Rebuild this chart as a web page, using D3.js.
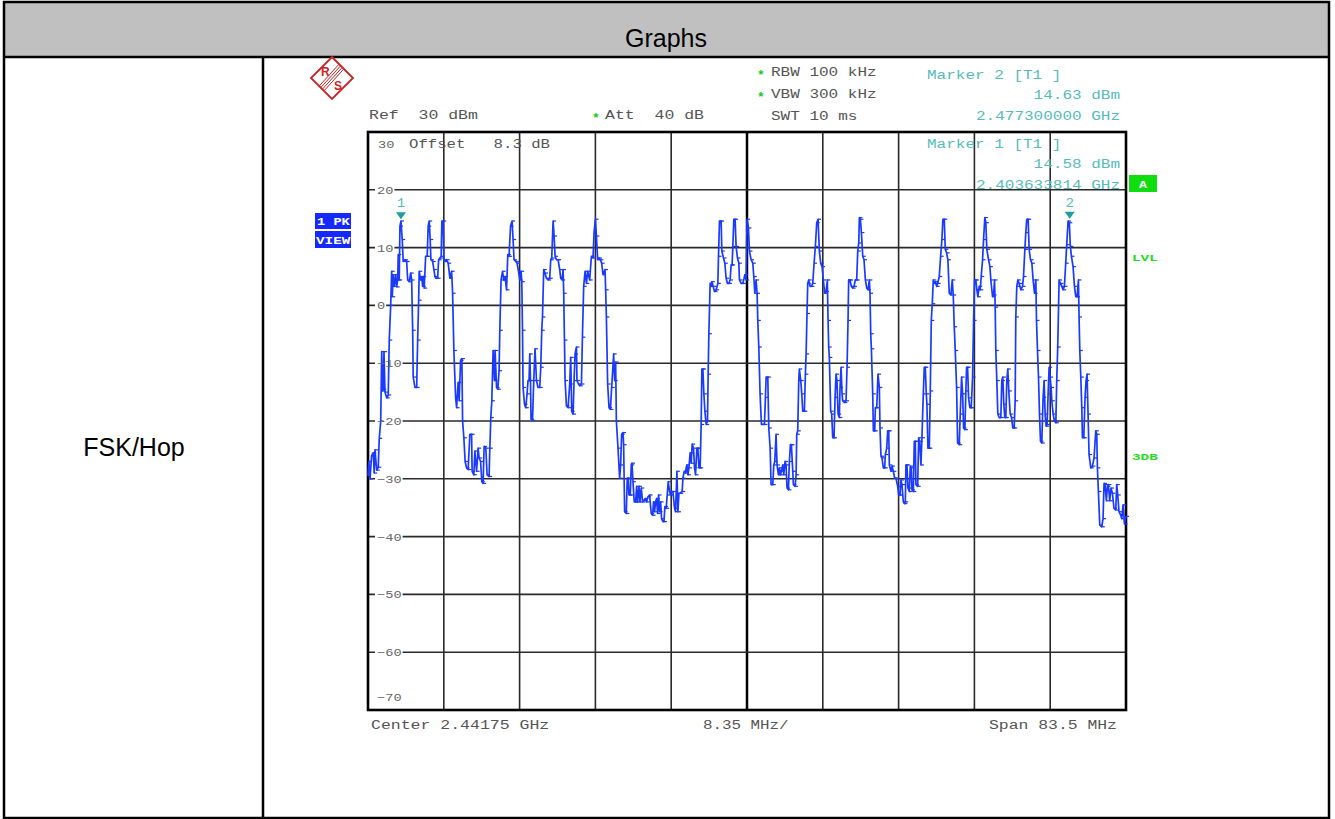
<!DOCTYPE html>
<html>
<head>
<meta charset="utf-8">
<title>FSK/Hop</title>
<script src="https://d3js.org/d3.v7.min.js"></script>
<style>
body { margin: 0; background: #fff; }
svg { display: block; }
text.mono { font-family: 'Liberation Mono', 'DejaVu Sans Mono', monospace; white-space: pre; }
text.sans { font-family: 'Liberation Sans', Arial, sans-serif; }
</style>
</head>
<body>
<div id="chart"></div>
<script>
var W = 1335, H = 819;

// analyser settings
var startMHz = 2400, spanMHz = 83.5;
var refLevel = 30, bottomLevel = -70;
var yTicks = [20, 10, 0, -10, -20, -30, -40, -50, -60];
var divisions = 10;

// trace: [MHz above start, dBm]
var trace = [
[0.00,-29.5],[0.10,-27],[0.22,-30],[0.40,-26],[0.58,-25.5],[0.68,-29],[0.77,-25],[0.96,-28.5],[1.13,-28],[1.24,-23],
[1.40,-20],[1.51,-8],[1.60,-14.8],[1.68,-14.5],[1.76,-8],[1.87,-15],[2.06,-16],[2.23,-15.5],[2.34,-6],[2.50,0],
[2.61,5.9],[2.67,1.5],[2.78,5.3],[2.89,3.3],[3.05,5.3],[3.16,3.2],[3.27,4.4],[3.33,8.8],[3.44,4.4],[3.52,13.7],
[3.63,14.6],[3.77,11.4],[3.88,7.6],[4.07,7.9],[4.26,7.6],[4.37,4.4],[4.54,4.1],[4.70,5.6],[4.81,4.4],[4.92,-4.3],
[4.98,-12.4],[5.17,-14.2],[5.36,-14.2],[5.47,-6],[5.58,0.9],[5.64,5.9],[5.80,4.4],[5.91,5],[6.02,3.3],[6.08,5],
[6.19,3],[6.35,8.5],[6.52,8.5],[6.63,13.7],[6.74,14.6],[6.85,11.4],[6.93,7.9],[7.12,7.6],[7.26,6.2],[7.37,5],
[7.48,4.7],[7.67,4.7],[7.78,7.9],[7.92,8.2],[8.06,8.5],[8.14,14.6],[8.28,14.6],[8.36,7.9],[8.50,7.6],[8.66,7.9],
[8.83,7.3],[9.02,4.7],[9.21,5.9],[9.32,2.1],[9.46,-7.8],[9.65,-15.9],[9.76,-17.7],[9.93,-13.3],[10.04,-16.5],[10.20,-9.5],
[10.34,-9.2],[10.42,-20],[10.56,-22.9],[10.70,-27],[10.86,-28.1],[11.03,-28.4],[11.22,-22.3],[11.41,-22.3],[11.47,-28.7],[11.66,-29.3],
[11.77,-25.2],[11.96,-28.7],[12.13,-24.7],[12.24,-26.4],[12.40,-27],[12.54,-30.5],[12.68,-30.8],[12.79,-24.4],[12.98,-24.7],[13.12,-29.3],
[13.34,-29.6],[13.42,-24.7],[13.53,-19.4],[13.64,-16.5],[13.78,-7.8],[13.94,-13],[14.00,-7.8],[14.16,-14.2],[14.30,-14.5],[14.44,-11.3],
[14.52,-4.3],[14.66,4.4],[14.82,5.9],[14.96,4.4],[15.10,5],[15.26,2.7],[15.40,8.8],[15.54,8.5],[15.70,13.7],[15.87,14.6],
[15.98,11.4],[16.09,7.9],[16.28,7.6],[16.42,7.3],[16.58,5.9],[16.72,4.4],[16.86,5.9],[16.94,4.1],[17.02,-4.3],[17.08,-14.2],
[17.24,-17.1],[17.38,-17.7],[17.52,-15.3],[17.63,-13],[17.74,-13],[17.82,-8.4],[17.90,-13],[17.96,-19.7],[18.12,-19.9],[18.26,-13],
[18.40,-7.5],[18.56,-13],[18.73,-14.2],[18.92,-14.2],[19.03,-10.7],[19.14,-4.3],[19.22,-2],[19.36,6.2],[19.50,5.6],[19.66,4.7],
[19.84,4.4],[20.02,4.7],[20.13,7.9],[20.24,8.2],[20.39,14.6],[20.50,12],[20.61,8.5],[20.76,7.9],[20.94,7.9],[21.12,6.2],
[21.23,4.7],[21.38,4.4],[21.49,6.2],[21.56,2.1],[21.64,-6],[21.71,-13],[21.86,-17.4],[22.04,-17.7],[22.22,-13.6],[22.33,-9],
[22.44,-18.3],[22.59,-18.8],[22.70,-13],[22.81,-8.4],[22.96,-7.2],[23.02,-13],[23.18,-13.6],[23.32,-13.9],[23.51,-13.6],[23.62,-5.5],
[23.76,3.3],[23.91,5.9],[24.06,3.8],[24.20,5.9],[24.42,4.4],[24.61,8.5],[24.79,8.2],[24.90,12.6],[25.05,14.9],[25.16,12],
[25.30,7.9],[25.45,8.2],[25.60,7.9],[25.74,7.3],[25.89,5.3],[26.11,6.2],[26.18,2.7],[26.26,-2],[26.40,-13.6],[26.55,-17.7],
[26.70,-18],[26.84,-14.2],[27.06,-8.4],[27.17,-13],[27.28,-9.8],[27.36,-20],[27.54,-24.7],[27.72,-29.9],[27.83,-27.6],[27.94,-22.3],
[28.09,-22],[28.16,-24.1],[28.27,-35.7],[28.45,-36],[28.56,-29.9],[28.67,-29.9],[28.75,-32.8],[28.89,-32.8],[29.00,-27.6],[29.08,-27.3],
[29.19,-30.5],[29.33,-34],[29.48,-34],[29.59,-31.3],[29.70,-34],[29.85,-31.3],[29.96,-34],[30.10,-31.6],[30.25,-34],[30.40,-33.7],
[30.54,-33.4],[30.69,-34],[30.84,-33.1],[31.02,-32.8],[31.20,-36],[31.35,-36.3],[31.46,-34],[31.57,-35.7],[31.68,-34],[31.79,-33.4],
[31.90,-36],[32.01,-32.8],[32.12,-35.7],[32.23,-34],[32.34,-36.9],[32.49,-37.4],[32.60,-37.4],[32.71,-34.8],[32.85,-35.1],[32.96,-32.8],
[33.07,-30.5],[33.22,-32.2],[33.33,-32.8],[33.44,-32.2],[33.59,-32.2],[33.77,-35.1],[33.88,-35.7],[34.03,-28.7],[34.14,-35.7],[34.25,-32.5],
[34.39,-32.5],[34.61,-32.2],[34.69,-29.9],[34.83,-28.7],[34.98,-29],[35.05,-28.1],[35.13,-27.6],[35.24,-29.3],[35.35,-28.1],[35.49,-25.5],
[35.60,-27.3],[35.71,-24],[35.86,-24.7],[35.97,-28.1],[36.08,-29.3],[36.23,-24.7],[36.34,-24.7],[36.45,-28.1],[36.59,-28.1],[36.70,-20.6],
[36.78,-11],[36.89,-11],[37.00,-15.3],[37.11,-18.3],[37.25,-20.6],[37.40,-20],[37.47,-11.9],[37.55,-4.9],[37.69,3.8],[37.77,3.3],
[37.88,4.1],[38.02,3.3],[38.17,2.4],[38.35,2.7],[38.54,3.8],[38.61,8.5],[38.72,14.6],[38.90,14.6],[38.98,9.4],[39.16,8.2],
[39.31,7.3],[39.45,4.7],[39.60,3.8],[39.75,3.8],[39.89,4.4],[40.00,7],[40.11,7],[40.19,10.2],[40.30,14.9],[40.44,14.9],
[40.55,10.2],[40.70,8.2],[40.85,7.3],[40.92,4.4],[41.10,3.8],[41.29,3.8],[41.43,4.7],[41.51,5.3],[41.65,4.4],[41.76,14.9],
[41.91,13.4],[42.02,9.4],[42.20,7.9],[42.39,7.3],[42.50,5],[42.61,2.1],[42.75,4.4],[42.86,2.1],[42.94,-2.6],[43.05,-7.2],
[43.19,-15.3],[43.34,-20.6],[43.67,-20.6],[43.78,-15.9],[43.86,-12.4],[44.04,-12.4],[44.15,-21.2],[44.30,-24.7],[44.40,-31],[44.59,-31],
[44.70,-27.6],[44.81,-27],[44.95,-22.3],[45.06,-27.6],[45.21,-29.3],[45.32,-28.1],[45.43,-29.3],[45.54,-28.7],[45.69,-27.6],[45.80,-29.3],
[45.94,-27],[46.05,-27.6],[46.16,-31.6],[46.31,-31.9],[46.42,-27],[46.53,-24.1],[46.64,-24.1],[46.79,-28.7],[46.86,-31],[47.05,-31.3],
[47.16,-29.3],[47.23,-22.3],[47.34,-21.7],[47.45,-13],[47.52,-11],[47.67,-13],[47.78,-15.3],[47.89,-18.3],[48.07,-18.3],[48.18,-11.9],
[48.26,-8.4],[48.36,-1.4],[48.44,3.8],[48.55,4.4],[48.70,3.3],[48.84,3.3],[48.99,3.8],[49.14,7.3],[49.28,10.2],[49.43,14.3],
[49.58,14.9],[49.72,9.4],[49.87,7.3],[50.02,6.7],[50.16,4.4],[50.31,2.1],[50.46,2.4],[50.60,4.4],[50.68,-2.6],[50.75,-7.2],
[50.82,-9],[50.97,-18.3],[51.08,-18.8],[51.19,-22.9],[51.34,-22.9],[51.45,-15.9],[51.56,-11.9],[51.66,-13],[51.78,-18.8],[51.92,-19.4],
[52.00,-14.2],[52.11,-10.7],[52.22,-15.3],[52.29,-16.5],[52.47,-16.8],[52.66,-16.5],[52.77,-10.7],[52.88,-2.6],[52.95,4.4],[53.10,4.4],
[53.24,3.3],[53.39,3],[53.54,3.3],[53.68,4.4],[53.83,4.4],[53.95,9.4],[54.06,10.8],[54.13,15.2],[54.24,14.9],[54.35,12.6],
[54.50,8.5],[54.64,7.9],[54.79,4.4],[54.94,3],[55.08,2.7],[55.23,4.4],[55.30,2.1],[55.38,-4.9],[55.45,-7.5],[55.60,-15.3],
[55.67,-21.7],[55.82,-21.7],[55.89,-17.7],[56.04,-17.7],[56.18,-11.9],[56.33,-14.2],[56.40,-21.2],[56.51,-26.1],[56.62,-26.4],[56.77,-28.1],
[56.92,-28.1],[56.99,-25.8],[57.14,-24.7],[57.25,-21.7],[57.36,-21.7],[57.43,-27.6],[57.61,-28.7],[57.72,-27.8],[57.87,-28.7],[58.02,-29.9],
[58.16,-29.9],[58.35,-31.3],[58.46,-32.8],[58.60,-32.8],[58.71,-30.2],[58.82,-31],[58.97,-34],[59.08,-34.3],[59.19,-34],[59.26,-27.6],
[59.37,-27.6],[59.48,-31.6],[59.63,-32.2],[59.74,-27.8],[59.85,-28.1],[59.92,-31.9],[60.07,-32.2],[60.18,-23.5],[60.29,-23.5],[60.36,-31],
[60.55,-31.3],[60.66,-22.9],[60.77,-23.5],[60.91,-27.6],[61.02,-22.9],[61.17,-15.3],[61.28,-10.7],[61.39,-10.7],[61.50,-15.3],[61.57,-17.1],
[61.68,-24.7],[61.83,-24.7],[61.94,-14.8],[62.05,-2.6],[62.16,0.3],[62.27,4.4],[62.38,3.8],[62.49,4.1],[62.64,3.3],[62.75,3.8],
[62.93,5],[63.08,8.5],[63.22,11.4],[63.33,14.9],[63.48,14.9],[63.59,9.7],[63.74,9.1],[63.88,7.9],[64.03,2.1],[64.21,1.8],
[64.36,4.4],[64.47,1.8],[64.58,-3.7],[64.69,-7.8],[64.84,-14.2],[64.95,-23.8],[65.13,-24.1],[65.24,-18.8],[65.39,-12.4],[65.50,-15.3],
[65.61,-21.2],[65.75,-21.5],[65.86,-14.8],[65.94,-10.7],[66.05,-10.7],[66.16,-16],[66.30,-17.7],[66.45,-17.7],[66.60,-12.4],[66.71,-2.6],
[66.82,4.4],[66.96,4.4],[67.07,2.7],[67.18,1.5],[67.33,3.3],[67.44,2.7],[67.55,5],[67.70,7.9],[67.81,11.4],[67.95,15.2],
[68.06,14.3],[68.17,9.7],[68.36,7.9],[68.51,6.7],[68.61,4.4],[68.80,1.5],[68.91,1.8],[69.02,4.4],[69.09,-0.3],[69.16,-7.8],
[69.27,-13],[69.38,-18.8],[69.53,-19.4],[69.71,-19.4],[69.82,-13],[69.93,-12.4],[70.04,-17.1],[70.15,-19.4],[70.26,-19.4],[70.37,-13],
[70.48,-11],[70.59,-14.8],[70.74,-18.8],[70.89,-19.4],[71.03,-21.2],[71.18,-21.2],[71.29,-16.5],[71.36,-2],[71.47,3.3],[71.59,4.4],
[71.73,3.8],[71.92,2.7],[72.10,3.3],[72.21,5],[72.36,9.7],[72.46,12.6],[72.57,14.9],[72.72,14.9],[72.83,9.7],[72.98,7.9],
[73.13,7.3],[73.27,4.4],[73.42,2.1],[73.57,4.4],[73.64,-2.6],[73.75,-7.8],[73.86,-12.4],[73.97,-18.8],[74.08,-23.5],[74.22,-23.8],
[74.37,-15.9],[74.48,-13],[74.59,-18.8],[74.70,-20.9],[74.81,-20.6],[74.92,-15.3],[75.03,-10.7],[75.14,-12.4],[75.25,-14.2],[75.33,-16.5],
[75.47,-18.8],[75.62,-20],[75.77,-20.3],[75.87,-13],[75.98,-7.2],[76.13,4.4],[76.28,3.8],[76.42,3.3],[76.57,2.7],[76.72,3.3],
[76.86,7.3],[76.97,10.5],[77.12,14.6],[77.26,14.3],[77.37,10.2],[77.49,8.5],[77.67,6.7],[77.82,3.3],[77.97,1.5],[78.11,1.5],
[78.26,4.4],[78.33,-2],[78.41,-7.8],[78.52,-12.4],[78.63,-17.7],[78.70,-22.9],[78.85,-22.9],[78.99,-15.9],[79.10,-13],[79.21,-11.9],
[79.32,-18.8],[79.43,-25.8],[79.62,-28.1],[79.80,-27.8],[79.98,-26.4],[80.17,-21.7],[80.28,-22.3],[80.35,-28.1],[80.46,-32.2],[80.61,-38],
[80.83,-38.3],[80.97,-36.9],[81.08,-30.8],[81.19,-31],[81.34,-33.8],[81.45,-31.3],[81.56,-31],[81.71,-33.8],[81.85,-31.6],[82.00,-32.5],
[82.18,-35.1],[82.37,-35.4],[82.48,-31],[82.59,-32.8],[82.73,-35.7],[82.92,-36.3],[83.03,-36.9],[83.18,-34.5],[83.33,-37.8],[83.50,-36.5]
];

// markers
var markerNum = [1, 2];
var markerMHz = [3.633814, 77.3];
var markerLevel = [14.58, 14.63];

// header lines
var settingsText = ["RBW 100 kHz", "VBW 300 kHz", "SWT 10 ms"];
var settingsStar = [true, true, false];

var svg = d3.select("#chart").append("svg")
	.attr("width", W).attr("height", H);

// ---- table frame ----
svg.append("rect").attr("x", 4).attr("y", 2).attr("width", 1325).attr("height", 55)
	.attr("fill", "#c0c0c0");
svg.append("rect").attr("x", 4).attr("y", 2).attr("width", 1325).attr("height", 816)
	.attr("fill", "none").attr("stroke", "#000").attr("stroke-width", 2.5);
svg.append("line").attr("x1", 4).attr("x2", 1329).attr("y1", 57).attr("y2", 57)
	.attr("stroke", "#000").attr("stroke-width", 2.5);
svg.append("line").attr("x1", 263).attr("x2", 263).attr("y1", 57).attr("y2", 818)
	.attr("stroke", "#000").attr("stroke-width", 2.5);

svg.append("text").attr("class", "sans").attr("x", 666).attr("y", 47)
	.attr("text-anchor", "middle").attr("font-size", 25).attr("fill", "#000").text("Graphs");
svg.append("text").attr("class", "sans").attr("x", 134).attr("y", 456)
	.attr("text-anchor", "middle").attr("font-size", 25).attr("fill", "#000").text("FSK/Hop");

// ---- helpers ----
function mono(str, x, y, opt) {
	opt = opt || {};
	var cw = opt.cw || 9.7;
	var t = svg.append("text").attr("class", "mono")
		.attr("x", x).attr("y", y)
		.attr("font-size", opt.size || 12)
		.attr("fill", opt.fill || "#555")
		.attr("text-anchor", opt.anchor || "start")
		.attr("textLength", str.length * cw)
		.attr("lengthAdjust", "spacingAndGlyphs")
		.text(str);
	if (opt.bold) t.attr("font-weight", "bold");
	return t;
}
function star(x, y) {
	svg.append("text").attr("class", "mono").attr("x", x).attr("y", y)
		.attr("font-size", 13).attr("fill", "#11cc11").attr("font-weight", "bold").text("*");
}

// ---- scales ----
var x = d3.scaleLinear().domain([0, spanMHz]).range([368, 1126]);
var y = d3.scaleLinear().domain([bottomLevel, refLevel]).range([710, 132]);

var plot = svg.append("g");

// grid
var vDivs = d3.range(1, divisions);
plot.selectAll("line.v").data(vDivs).enter().append("line")
	.attr("x1", function (d) { return x(d * spanMHz / divisions); })
	.attr("x2", function (d) { return x(d * spanMHz / divisions); })
	.attr("y1", y(refLevel)).attr("y2", y(bottomLevel))
	.attr("stroke", function (d) { return d == 5 ? "#000" : "#2a2a2a"; })
	.attr("stroke-width", function (d) { return d == 5 ? 2.5 : 1.6; });

plot.selectAll("line.h").data(yTicks).enter().append("line")
	.attr("x1", x(0)).attr("x2", x(spanMHz))
	.attr("y1", function (d) { return y(d); })
	.attr("y2", function (d) { return y(d); })
	.attr("stroke", "#2a2a2a").attr("stroke-width", 1.6);

plot.append("rect").attr("x", x(0)).attr("y", y(refLevel))
	.attr("width", x(spanMHz) - x(0)).attr("height", y(bottomLevel) - y(refLevel))
	.attr("fill", "none").attr("stroke", "#000").attr("stroke-width", 2.6);

// y tick labels sitting on the grid lines
yTicks.forEach(function (t) {
	var s = t < 0 ? "\u2212" + (-t) : String(t);
	var w = s.length * 8.2;
	plot.append("rect").attr("x", 375).attr("y", y(t) - 5).attr("width", w + 3).attr("height", 10)
		.attr("fill", "#fff");
	mono(s, 377, y(t) + 4, { size: 11, cw: 8.2, fill: "#666" });
});
mono(String(refLevel), 378, y(refLevel) + 16, { size: 11, cw: 8.2, fill: "#666" });
mono("\u2212" + (-bottomLevel), 377, y(bottomLevel) - 9, { size: 11, cw: 8.2, fill: "#666" });
mono("Offset   8.3 dB", 409, y(refLevel) + 16, { cw: 9.4 });

// ---- trace ----
var line = d3.line()
	.x(function (d) { return x(d[0]); })
	.y(function (d) { return y(d[1]); });

plot.append("path").datum(trace)
	.attr("d", line)
	.attr("fill", "none")
	.attr("stroke", "#1a3aff")
	.attr("stroke-width", 1.7)
	.attr("stroke-linejoin", "round");

plot.selectAll("line.pt").data(trace).enter().append("line")
	.attr("x1", function (d) { return x(d[0]); })
	.attr("x2", function (d) { return x(d[0]) + 3; })
	.attr("y1", function (d) { return y(d[1]); })
	.attr("y2", function (d) { return y(d[1]); })
	.attr("stroke", "#1a3aff").attr("stroke-width", 1.2);

// ---- markers ----
markerNum.forEach(function (n, i) {
	var mx = x(markerMHz[i]), my = y(markerLevel[i]) - 2;
	svg.append("path")
		.attr("d", "M" + (mx - 5) + "," + (my - 7) + "L" + (mx + 5) + "," + (my - 7) + "L" + mx + "," + my + "Z")
		.attr("fill", "#1a9e9e");
	mono(String(n), mx, my - 12, { anchor: "middle", fill: "#55bbbb", size: 12, cw: 8.5 });
});

// ---- header text ----
mono("Ref  30 dBm", 369, 119, { cw: 9.9 });
star(592, 122);
mono("Att  40 dB", 605, 119, { cw: 9.9 });
settingsText.forEach(function (s, i) {
	var yy = 76 + i * 22;
	if (settingsStar[i]) star(757, yy + 3);
	mono(s, 771, yy, { cw: 9.6 });
});

var teal = "#55bbbb";
mono("Marker " + markerNum[1] + " [T1 ]", 927, 79, { fill: teal, cw: 9.6 });
mono(markerLevel[1].toFixed(2) + " dBm", 1120, 99, { fill: teal, cw: 9.6, anchor: "end" });
mono(((startMHz + markerMHz[1]) / 1000).toFixed(9) + " GHz", 1120, 120, { fill: teal, cw: 9.6, anchor: "end" });
mono("Marker " + markerNum[0] + " [T1 ]", 927, 148, { fill: teal, cw: 9.6 });
mono(markerLevel[0].toFixed(2) + " dBm", 1120, 168, { fill: teal, cw: 9.6, anchor: "end" });
mono(((startMHz + markerMHz[0]) / 1000).toFixed(9) + " GHz", 1120, 189, { fill: teal, cw: 9.6, anchor: "end" });

// footer
mono("Center " + ((startMHz + spanMHz / 2) / 1000).toFixed(5) + " GHz", 371, 729, { cw: 9.9 });
mono((spanMHz / divisions).toFixed(2) + " MHz/", 703, 729, { cw: 9.5 });
mono("Span " + spanMHz + " MHz", 1117, 729, { cw: 9.85, anchor: "end" });

// ---- side boxes ----
svg.append("rect").attr("x", 315).attr("y", 213).attr("width", 36).attr("height", 16).attr("fill", "#1428ff");
mono("1 PK", 317, 225, { fill: "#fff", size: 10, cw: 8.2, bold: true });
svg.append("rect").attr("x", 315).attr("y", 231).attr("width", 36).attr("height", 17).attr("fill", "#1428ff");
mono("VIEW", 316, 244, { fill: "#fff", size: 10, cw: 8.6, bold: true });

svg.append("rect").attr("x", 1129).attr("y", 175).attr("width", 28).attr("height", 17).attr("fill", "#10dd10");
mono("A", 1143, 188, { fill: "#fff", size: 10, cw: 8, bold: true, anchor: "middle" });
mono("LVL", 1132, 261, { fill: "#22dd22", size: 9, cw: 8.6, bold: true });
mono("3DB", 1132, 460, { fill: "#22dd22", size: 9, cw: 8.6, bold: true });

// ---- R&S logo ----
var logo = svg.append("g").attr("stroke", "#cc2222").attr("fill", "none");
logo.append("path").attr("d", "M332,57L353,78L332,99L311,78Z").attr("stroke-width", 1.8);
[-2.4, -0.8, 0.8, 2.4].forEach(function (o) {
	logo.append("line")
		.attr("x1", 341 + o).attr("y1", 67 + o)
		.attr("x2", 322 + o).attr("y2", 88 + o)
		.attr("stroke-width", 1);
});
svg.append("text").attr("class", "sans").attr("x", 321).attr("y", 76)
	.attr("font-size", 12).attr("font-weight", "bold").attr("fill", "#cc2222").text("R");
svg.append("text").attr("class", "sans").attr("x", 334).attr("y", 90)
	.attr("font-size", 12).attr("font-weight", "bold").attr("fill", "#cc2222").text("S");
</script>
</body>
</html>
